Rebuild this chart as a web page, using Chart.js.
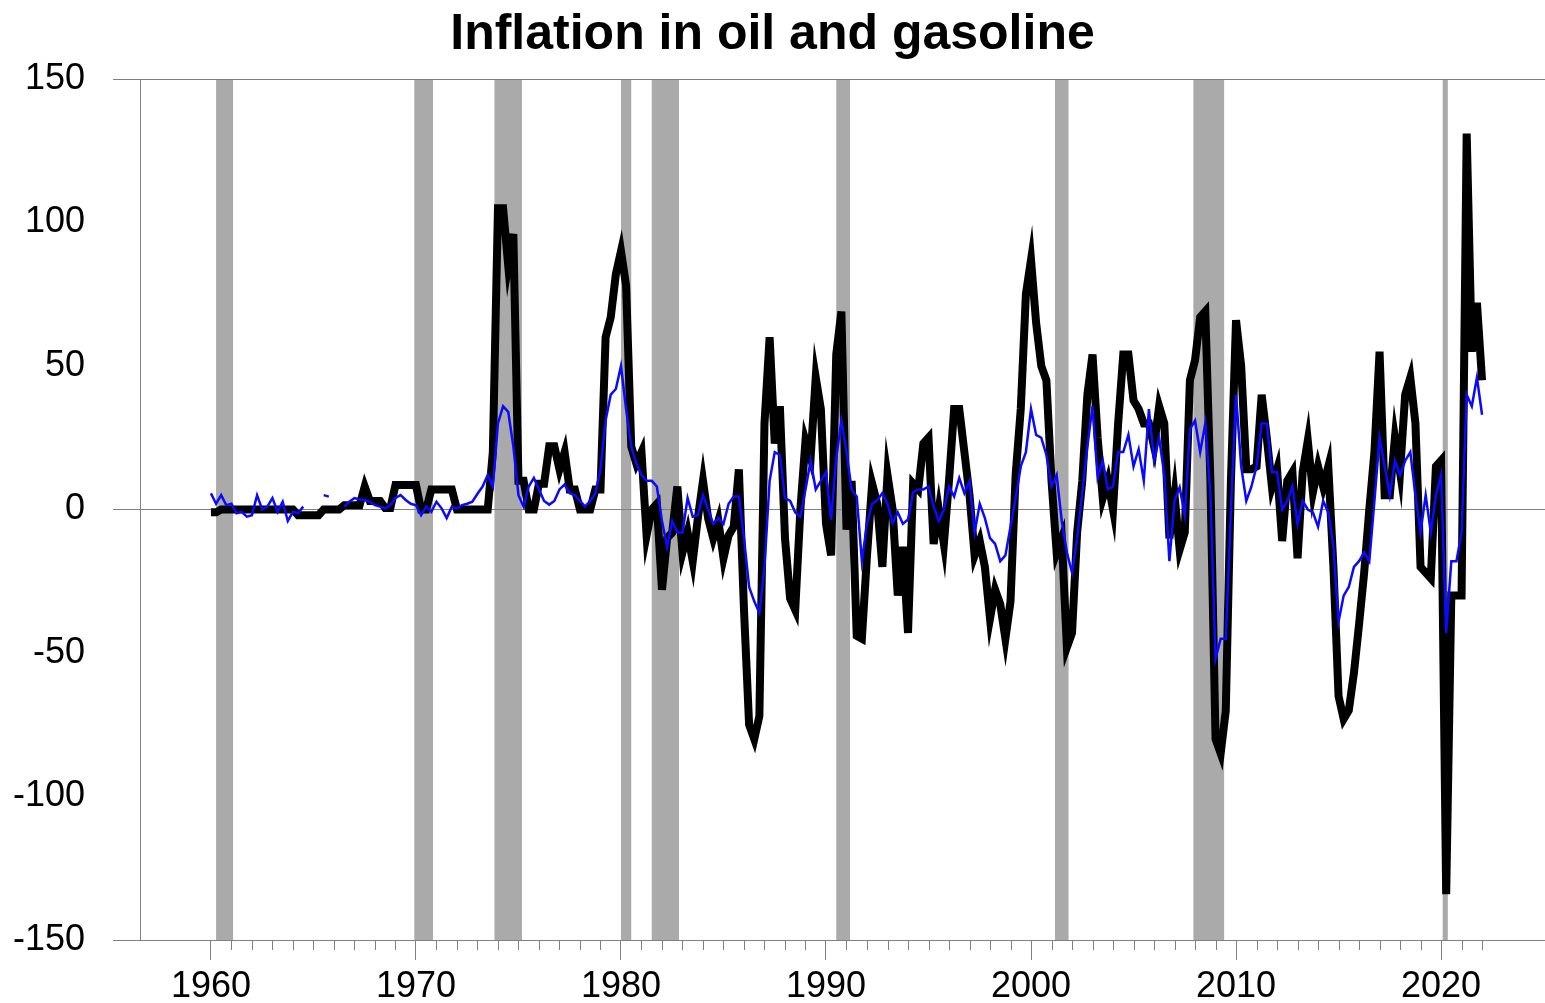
<!DOCTYPE html>
<html>
<head>
<meta charset="utf-8">
<script src="https://cdn.jsdelivr.net/npm/chart.js@4"></script>
<style>
	html, body { margin: 0; padding: 0; background: #fff; }
	canvas { display: block; }
</style>
</head>
<body>
<canvas id="myChart" width="1545" height="1003"></canvas>
<script>
// quarterly readings, first point is 1960 Q1
const startYear = 1960;
const step = 0.25;

const oil = [
	-1, -1, 0, 0,
	0, 0, 0, 0,
	0, 0, 0, 0,
	0, 0, 0, 0,
	0, -2, -2, -2,
	-2, -2, 0, 0,
	0, 0, 1.5, 1.5,
	1.5, 1.5, 8, 3,
	3, 3, 0.5, 0.5,
	8.5, 8.5, 8.5, 8.5,
	8.5, 0, 0, 7,
	7, 7, 7, 7,
	0, 0, 0, 0,
	0, 0, 0, 20,
	105, 105, 85, 96,
	10, 10, 0, 0,
	9, 9, 22, 22,
	14, 20, 7, 7,
	0, 0, 0, 7,
	7, 60, 67, 82,
	90, 78, 22, 16,
	20, -9, 0, 2,
	-28, -10, -8, 8,
	-15, -8, -18, -3,
	10, -3, -10, -4,
	-17, -9, -6, 14,
	-35, -75, -80, -72,
	30, 60, 23, 36,
	-10, -31, -35, 0,
	24, 18, 46, 35,
	-5, -16, 54, 69,
	-7, 10, -44, -45,
	-16, 9, 2, -20,
	12, 0, -30, -13,
	-43, 9, 7, 23,
	25, -12, 0, -12,
	10, 35, 35, 20,
	5, -16, -11, -20,
	-38, -28, -33, -45,
	-32, 12, 35, 75,
	87, 65, 50, 45,
	10, -15, -10, -48,
	-43, -8, 10, 40,
	54, 25, 4, 10,
	0, 30, 54, 54,
	38, 35, 30, 30,
	22, 36, 30, -10,
	5, -14, -8, 45,
	52, 67, 69, 10,
	-80, -85, -70, 10,
	66, 50, 14, 14,
	15, 40, 25, 8,
	14, -11, 10, 13,
	-17, 13, 24, 6,
	15, 8, 15, -20,
	-65, -73, -70, -57,
	-40, -22, 0, 20,
	55, 5, 5, 25,
	13, 40, 46, 30,
	-20, -22, -24, 15,
	17, -134, -30, -30,
	-30, 131, 55, 72,
	45
];

const gasoline = [
	5.6, 2, 5, 1.5,
	2, -1.3, -0.8, -2.5,
	-2, 5, 0, 1,
	4, -0.8, 2.7, -4,
	-0.8, -1.3, 1, null,
	0.5, null, 5, 4.5,
	null, null, 1, 2.7,
	4, 3.5, 3.3, 2.7,
	1.5, 1, 0.4, 1.5,
	4, 5, 3.3, 2,
	1.5, -2, 1, -0.8,
	2.7, 0.4, -3, 1,
	0.4, 1.5, 2, 2.7,
	5.5, 8, 12, 8,
	30, 36, 34, 22,
	5, 1, 8, 11,
	7, 3, 1.7, 3,
	7, 8.7, 5.7, 5,
	3, 1, 3, 5.7,
	14, 31, 40, 42,
	50, 35, 22, 16,
	12, 10, 10, 8,
	-4, -13, -4, -8,
	-8, 4, -2.5, -2,
	5, 0, -5, -3,
	-5, 2, 4.5, 4.5,
	-10, -27, -32, -36,
	-20, 10, 20, 19,
	4, 3, -1, -2.5,
	7, 17, 7, 10,
	13, -3.5, 18, 31,
	20, 7, 4.5, -18,
	-5, 2, 3.3, 5.7,
	2, -4.7, -1, -5,
	-3.5, 6, 7, 7,
	8, 1, -4, 0,
	8, 4.5, 11, 5.7,
	10, -8, 2, -3,
	-10, -12, -18, -16,
	-6, 4, 15, 20,
	35, 26, 25, 19,
	8, 12, -4, -15,
	-22, -10, 6, 22,
	36, 11, 17, 7,
	8, 20, 20, 26,
	15, 21, 10, 35,
	17, 25, 12, -18,
	3, 7.7, -2, 28,
	31, 20, 30, 5,
	-52, -45, -45, 0,
	40, 15, 3, 8,
	15, 30, 30, 13,
	13, 0, 3, 8,
	-5, 3, 0, -1,
	-6, 3, -1, -13,
	-39, -30, -27, -20,
	-18, -15, -18, 3,
	25, 15, 5, 17,
	12, 17, 20, 5,
	-8, 5, -8, 5,
	12, -43, -18, -18,
	-8, 40, 36, 46,
	33
];

// NBER recessions, decimal years
const recessionStart = [1960.25, 1969.92, 1973.83, 1980.0, 1981.5, 1990.5, 2001.17, 2007.92, 2020.08];
const recessionEnd = [1961.08, 1970.83, 1975.17, 1980.5, 1982.83, 1991.17, 2001.83, 2009.42, 2020.33];

const decadeTicks = [1960, 1970, 1980, 1990, 2000, 2010, 2020];
const yTicks = [-150, -100, -50, 0, 50, 100, 150];
const ruledValues = [-150, 0, 150];

const minorTicks = [];
for (let yr = 1961; yr <= 2022; yr++) {
	if (yr % 10 !== 0) minorTicks.push(yr);
}

const toPoints = arr => arr.map((v, i) => ({ x: startYear + i * step, y: v }));

const axisGray = '#808080';
const tickFont = { family: 'Liberation Sans', size: 36 };

const recessionBands = {
	id: 'recessionBands',
	beforeDraw(chart) {
		const { ctx, chartArea, scales: { x } } = chart;
		ctx.save();
		ctx.fillStyle = '#aaaaaa';
		recessionStart.forEach((s, i) => {
			const left = x.getPixelForValue(s);
			const right = x.getPixelForValue(recessionEnd[i]);
			ctx.fillRect(left, chartArea.top, right - left, chartArea.bottom - chartArea.top);
		});
		ctx.restore();
	}
};

const minorTickMarks = {
	id: 'minorTickMarks',
	afterDraw(chart) {
		const { ctx, chartArea, scales: { x } } = chart;
		ctx.save();
		ctx.strokeStyle = axisGray;
		ctx.lineWidth = 1;
		ctx.beginPath();
		minorTicks.forEach(yr => {
			const px = Math.round(x.getPixelForValue(yr)) + 0.5;
			ctx.moveTo(px, chartArea.bottom);
			ctx.lineTo(px, chartArea.bottom + 10);
		});
		ctx.stroke();
		ctx.restore();
	}
};

const ctx = document.getElementById('myChart').getContext('2d');
let myChart = new Chart(ctx, {
	type: 'line',
	data: {
		datasets: [
			{
				label: 'Gasoline',
				data: toPoints(gasoline),
				borderColor: '#0a0aff',
				borderWidth: 2.5,
				pointRadius: 0,
				tension: 0,
				spanGaps: false,
				order: 0
			},
			{
				label: 'Oil',
				data: toPoints(oil),
				borderColor: '#000000',
				borderWidth: 8,
				pointRadius: 0,
				tension: 0,
				order: 1
			}
		]
	},
	options: {
		responsive: false,
		animation: false,
		devicePixelRatio: 1,
		layout: { padding: 0 },
		plugins: {
			legend: { display: false },
			tooltip: { enabled: false },
			title: {
				display: true,
				text: 'Inflation in oil and gasoline',
				color: '#000',
				font: { family: 'Liberation Sans', size: 50, weight: 'bold' },
				padding: { top: 5, bottom: 14 }
			}
		},
		scales: {
			x: {
				type: 'linear',
				min: 1956.54,
				max: 2025.07,
				afterBuildTicks: scale => { scale.ticks = decadeTicks.map(v => ({ value: v })); },
				afterFit: scale => { scale.height = 63; },
				grid: { drawOnChartArea: false, drawTicks: true, tickLength: 20, color: axisGray },
				border: { display: true, color: axisGray },
				ticks: {
					font: tickFont,
					color: '#000',
					padding: 5,
					maxRotation: 0,
					autoSkip: false,
					callback: v => String(v)
				}
			},
			y: {
				min: -150,
				max: 150,
				afterBuildTicks: scale => { scale.ticks = yTicks.map(v => ({ value: v })); },
				afterFit: scale => { scale.width = 140; },
				grid: {
					tickLength: 27,
					color: c => ruledValues.includes(c.tick && c.tick.value) ? axisGray : 'rgba(0,0,0,0)'
				},
				border: { display: true, color: axisGray },
				ticks: {
					font: tickFont,
					color: '#000',
					padding: 28,
					callback: v => String(v)
				}
			}
		}
	},
	plugins: [recessionBands, minorTickMarks]
});
</script>
</body>
</html>
